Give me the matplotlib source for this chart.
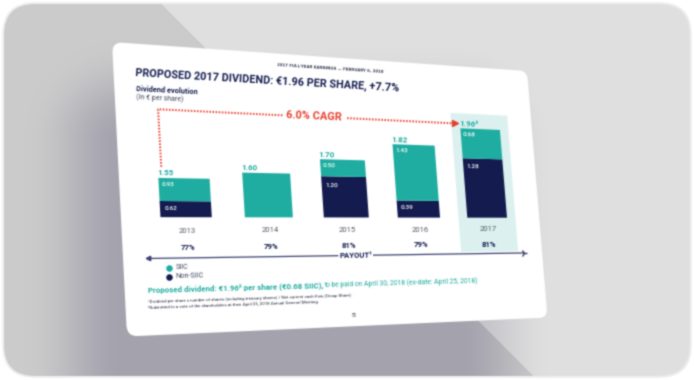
import numpy as np
import matplotlib
matplotlib.use("Agg")
import matplotlib.pyplot as plt
from matplotlib.patches import FancyBboxPatch
from matplotlib.transforms import Affine2D, Transform

plt.rcParams['font.family'] = ['Roboto', 'DejaVu Sans']

years = [2013, 2014, 2015, 2016, 2017]
totals = ['1.55', '1.60', '1.70', '1.82', '1.96²']
sic_labels = ['0.93', '', '0.50', '1.43', '0.68']
non_sic_labels = ['0.62', '', '1.20', '0.39', '1.28']
payout = ['77%', '79%', '81%', '79%', '81%']
# the slide's axis is cut, bar heights are as drawn on the slide, not the labels
sic_drawn = [43, 86, 34, 116, 64]
non_sic_drawn = [30, 0, 82, 35, 126]

TEAL = '#1fada1'
NAVY = '#141c4f'
RED = '#e8402f'
PALE = '#dcf1ef'


class Homography(Transform):
    input_dims = 2
    output_dims = 2
    is_separable = False

    def __init__(self, src, dst):
        super().__init__()
        rows, rhs = [], []
        for (x, y), (u, v) in zip(src, dst):
            rows.append([x, y, 1, 0, 0, 0, -u * x, -u * y])
            rows.append([0, 0, 0, x, y, 1, -v * x, -v * y])
            rhs += [u, v]
        self.m = np.append(np.linalg.solve(np.array(rows, float), np.array(rhs, float)), 1).reshape(3, 3)

    def transform_non_affine(self, values):
        values = np.asarray(values, float)
        p = np.column_stack([values, np.ones(len(values))]) @ self.m.T
        return p[:, :2] / p[:, 2:]


def blur(image, dpi):
    out = image
    for axis in (0, 1):
        out = 0.2 * np.roll(out, 1, axis) + 0.6 * out + 0.2 * np.roll(out, -1, axis)
    return out, 0, 0


fig = plt.figure(figsize=(6.94, 3.8), dpi=100, facecolor='white')
ax = fig.add_axes([0, 0, 1, 1])
ax.set_xlim(0, 694)
ax.set_ylim(380, 0)
ax.axis('off')
ax.set_agg_filter(blur)

hom = Homography([(0, 0), (960, 0), (960, 540), (0, 540)],
                 [(112, 42), (527, 71), (547.5, 317.5), (127, 336.5)])
inv_m = np.linalg.inv(hom.m)
slide_tr = hom + ax.transData
to_slide = Affine2D().scale(173, -1).translate(129 - 173 * 2013, 324)
chart_tr = to_slide + slide_tr

# background card
yy, xx = np.mgrid[0:380, 0:694]
dx = np.maximum(np.maximum(125 - xx, xx - 455), 0)
dy = np.maximum(140 - yy, 0)
dist = np.hypot(dx, dy)
fade = np.clip(1 - dist / 100, 0, 1)
fade = fade * fade * (3 - 2 * fade)
left_of_diag = (yy - (xx - 158)) > 0
start = np.array([0xe0, 0xe0, 0xe0]) / 255
mid = np.array([0xcb, 0xcb, 0xcb]) / 255
dark = np.array([0xa4, 0xa2, 0xad]) / 255
shade = np.where(left_of_diag[..., None], mid, start)
strength = np.where(left_of_diag, fade, fade * 0.55)
bg_img = shade * (1 - strength[..., None]) + dark * strength[..., None]
im = ax.imshow(bg_img, extent=(0, 694, 380, 0), aspect='auto', zorder=0)
card = FancyBboxPatch((3, 3), 688, 374, boxstyle='round,pad=0,rounding_size=32',
                      facecolor='none', edgecolor='#efefef', linewidth=1.5, zorder=1)
ax.add_patch(card)
im.set_clip_path(card)
ax.set_xlim(0, 694)
ax.set_ylim(380, 0)

# the slide
ax.add_patch(FancyBboxPatch((20, 20), 920, 500, boxstyle='round,pad=20,rounding_size=20',
                            facecolor='white', edgecolor='none', transform=slide_tr, zorder=2))


def tilt(x_px, y_px):
    p = inv_m @ np.array([x_px, y_px, 1.0])
    sx, sy = p[0] / p[2], p[1] / p[2]
    a, b = hom.transform_non_affine(np.array([[sx, sy], [sx + 10, sy]]))
    return np.degrees(np.arctan2(-(b[1] - a[1]), b[0] - a[0]))


def px_text(x, y, s, **kw):
    kw.setdefault('va', 'center')
    kw.setdefault('ha', 'left')
    ax.text(x, y, s, rotation=tilt(x, y), rotation_mode='anchor', zorder=6, **kw)


def chart_text(x, y, s, **kw):
    pt = hom.transform_non_affine(to_slide.transform(np.array([[x, y]])))[0]
    px_text(pt[0], pt[1], s, **kw)


# highlight for the proposed year, then stacked bars
width = 0.6
ax.bar([2017], [294], bottom=-72, width=0.86, color=PALE, transform=chart_tr, zorder=3)
ax.bar(years, non_sic_drawn, width=width, color=NAVY, transform=chart_tr, zorder=4)
ax.bar(years, sic_drawn, bottom=non_sic_drawn, width=width, color=TEAL, transform=chart_tr, zorder=4)
ax.set_xlim(0, 694)
ax.set_ylim(380, 0)

for i, yr in enumerate(years):
    top = sic_drawn[i] + non_sic_drawn[i]
    chart_text(yr - width / 2 - 0.01, top + 10, totals[i], color=TEAL, fontsize=5.8, fontweight='bold')
    if sic_labels[i]:
        chart_text(yr - width / 2 + 0.03, top - 13, sic_labels[i], color='white', fontsize=4.6, fontweight='medium')
        chart_text(yr - width / 2 + 0.05, non_sic_drawn[i] - 14 if non_sic_drawn[i] < 60 else non_sic_drawn[i] - 18,
                   non_sic_labels[i], color='white', fontsize=4.6, fontweight='medium')
    chart_text(yr, -25, str(yr), color='#555a66', fontsize=5.5, ha='center')
    chart_text(yr, -56, payout[i], color=NAVY, fontsize=5.6, fontweight='bold', ha='center')

# CAGR dotted line
dots = dict(color=RED, linewidth=1.4, linestyle=(0, (0.8, 0.8)), transform=chart_tr, zorder=5)
ax.plot([2012.74, 2012.74, 2014.25], [94, 202, 201], **dots)
ax.plot([2015.1, 2016.6], [201, 200], **dots)
ax.plot([2016.62], [200], marker='>', markersize=4.5, color=RED, transform=chart_tr, zorder=5)
chart_text(2014.66, 201, '6.0% CAGR', color=RED, fontsize=7.9, fontweight='bold', ha='center')

# payout arrow
arrow = dict(color='#3c4270', linewidth=0.9, transform=chart_tr, zorder=5)
ax.plot([2012.53, 2014.85], [-76, -76], **arrow)
ax.plot([2015.33, 2017.52], [-76, -76], **arrow)
ax.plot([2012.53], [-76], marker='<', markersize=3.2, color='#3c4270', transform=chart_tr, zorder=5)
ax.plot([2017.52], [-76], marker='4', markersize=5, color='#3c4270', transform=chart_tr, zorder=5)
chart_text(2015.09, -76, 'PAYOUT¹', color=NAVY, fontsize=5.6, fontweight='bold', ha='center')

# slide texts
px_text(277, 64.5, '2017 FULL-YEAR EARNINGS — FEBRUARY 6, 2018', color='#3a3f55', fontsize=2.8,
        fontweight='bold', family='DejaVu Sans')
px_text(135.5, 72.5, 'PROPOSED 2017 DIVIDEND: €1.96 PER SHARE, +7.7%', color=NAVY, fontsize=7.85, fontweight='bold')
px_text(136, 89, 'Dividend evolution', color=NAVY, fontsize=5.3, fontweight='bold')
px_text(136, 97, '(In € per share)', color='#444a60', fontsize=5.0)

# legend
ax.scatter([168.7], [268], s=22, color=TEAL, zorder=5, linewidths=0)
ax.scatter([169.3], [277], s=22, color=NAVY, zorder=5, linewidths=0)
px_text(175.5, 268, 'SIIC', color='#444a60', fontsize=5.2)
px_text(175.5, 277, 'Non-SIIC', color='#444a60', fontsize=5.2)

px_text(148, 290, 'Proposed dividend: €1.96² per share (€0.68 SIIC),', color=TEAL, fontsize=5.7, fontweight='bold')
px_text(324, 285, 'to be paid on April 30, 2018 (ex-date: April 25, 2018)', color=TEAL, fontsize=4.85)

px_text(148, 302, '¹Dividend per share x number of shares (including treasury shares) / Net current cash flow (Group Share).',
        color='#222538', fontsize=3.15)
px_text(148, 308, '²Submitted to a vote of the shareholders at their April 25, 2018 Annual General Meeting.',
        color='#222538', fontsize=3.15)
px_text(352, 316, '51', color='#222538', fontsize=3.4)

fig.savefig('out.png', dpi=100, facecolor='white')
